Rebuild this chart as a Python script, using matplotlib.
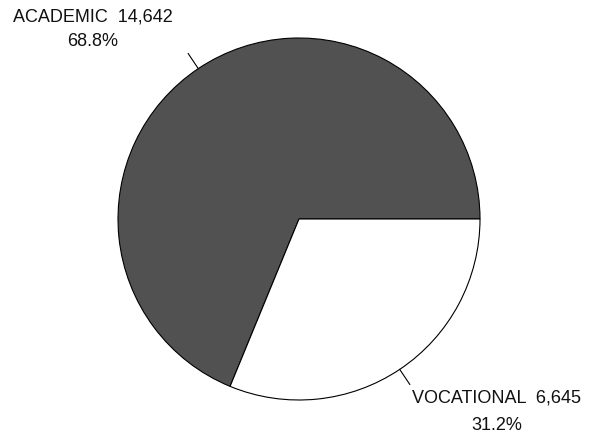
import numpy as np
import matplotlib
matplotlib.use("Agg")
import matplotlib.pyplot as plt

categories = ["ACADEMIC", "VOCATIONAL"]
counts = [14642, 6645]
percents = [68.8, 31.2]
colors = ["#515151", "#ffffff"]

W, H = 600, 436
fig = plt.figure(figsize=(W / 100, H / 100), dpi=100)
ax = fig.add_axes([0, 0, 1, 1])

cx, cy, r = 299, H - 219, 181
wedges, _ = ax.pie(counts, colors=colors, startangle=0, counterclock=True,
                   center=(cx, cy), radius=r, frame=True,
                   wedgeprops=dict(edgecolor="black", linewidth=0.8))
ax.set_xlim(0, W)
ax.set_ylim(0, H)
ax.set_aspect("equal")
ax.axis("off")

font = dict(family=["Liberation Sans", "DejaVu Sans"], fontsize=13, color="#111111")
text_pos = [(93, H - 17, H - 41.5), (497, H - 398, H - 425)]
for w, cat, n, p, (tx, ty1, ty2) in zip(wedges, categories, counts, percents, text_pos):
    mid = np.deg2rad((w.theta1 + w.theta2) / 2)
    x0, y0 = cx + r * np.cos(mid), cy + r * np.sin(mid)
    x1, y1 = cx + 1.1 * r * np.cos(mid), cy + 1.1 * r * np.sin(mid)
    ax.plot([x0, x1], [y0, y1], color="black", lw=0.8)
    ax.text(tx, ty1, f"{cat}  {n:,}", ha="center", va="center", **font)
    ax.text(tx, ty2, f"{p:.1f}%", ha="center", va="center", **font)

fig.savefig("out.png", dpi=100, facecolor="white")
